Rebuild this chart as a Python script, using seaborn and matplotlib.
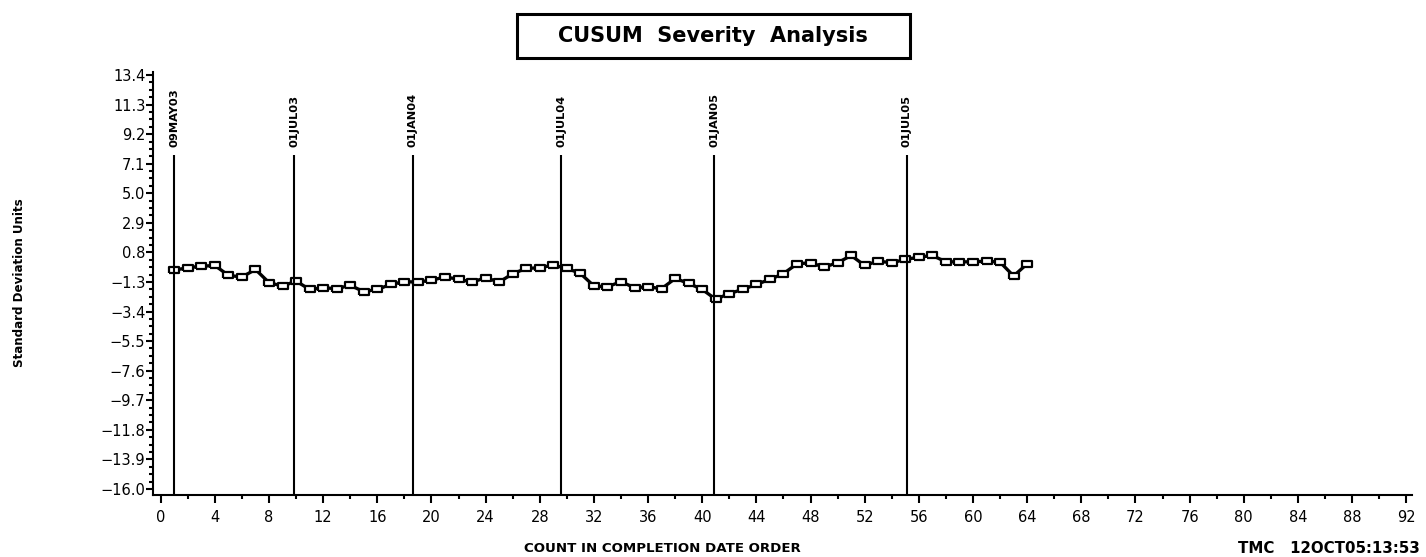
import matplotlib
matplotlib.use("Agg")
import matplotlib.pyplot as plt
import seaborn as sns
from matplotlib.patches import Rectangle
from matplotlib.ticker import AutoMinorLocator

# CUSUM values in completion date order (count 1..64)
counts = list(range(1, 65))
cusum = [-0.46, -0.29, -0.18, -0.13, -0.83, -0.95, -0.41, -1.35, -1.59, -1.24,
         -1.83, -1.71, -1.78, -1.54, -1.99, -1.83, -1.47, -1.28, -1.31, -1.17,
         -0.95, -1.10, -1.31, -1.00, -1.31, -0.71, -0.34, -0.29, -0.10, -0.34,
         -0.69, -1.59, -1.64, -1.28, -1.71, -1.64, -1.78, -1.05, -1.40, -1.83,
         -2.53, -2.12, -1.83, -1.47, -1.12, -0.71, -0.01, 0.06, -0.24, 0.06,
         0.58, -0.13, 0.18, 0.06, 0.30, 0.46, 0.58, 0.13, 0.13, 0.13,
         0.18, 0.11, -0.88, -0.01]

# date reference lines
date_pos = [1.0, 9.85, 18.6, 29.6, 40.9, 55.1]
date_labels = ['09MAY03', '01JUL03', '01JAN04', '01JUL04', '01JAN05', '01JUL05']

y_ticks = [13.4, 11.3, 9.2, 7.1, 5.0, 2.9, 0.8, -1.3, -3.4, -5.5, -7.6,
           -9.7, -11.8, -13.9, -16.0]
x_ticks = list(range(0, 93, 4))

sns.set_style("ticks")
plt.rcParams['font.family'] = ['DejaVu Sans']
plt.rcParams['text.color'] = 'black'
plt.rcParams['axes.labelcolor'] = 'black'

fig = plt.figure(figsize=(14.26, 5.57), dpi=100)
ax = fig.add_axes([0.1073, 0.1113, 0.8829, 0.7594])

# wide flat box marker
box = [(-1.4, -1.0), (1.4, -1.0), (1.4, 1.0), (-1.4, 1.0), (-1.4, -1.0)]
sns.lineplot(x=counts, y=cusum, ax=ax, color='black', linewidth=2.4,
             marker=box, markersize=7, markerfacecolor='white',
             markeredgecolor='black', markeredgewidth=1.6)

ax.vlines(date_pos, -16.43, 7.7, color='black', linewidth=1.5)
for xp, lab in zip(date_pos, date_labels):
    ax.text(xp, 8.3, lab, rotation=90, ha='center', va='bottom',
            fontweight='bold', fontsize=8.2)

ax.set_xlim(-0.57, 92.43)
ax.set_ylim(-16.43, 13.61)
ax.set_xticks(x_ticks)
ax.set_yticks(y_ticks)
ax.set_yticklabels([f"{v:.1f}".replace('-', '\u2212') for v in y_ticks])
ax.xaxis.set_minor_locator(AutoMinorLocator(2))
ax.yaxis.set_minor_locator(AutoMinorLocator(4))
ax.tick_params(axis='both', which='major', length=5, width=1.5, labelsize=10.5,
               color='black', labelcolor='black')
ax.tick_params(axis='x', which='major', length=6, pad=5)
ax.tick_params(axis='y', which='major', pad=0.5)
ax.tick_params(axis='both', which='minor', length=3, width=1.5, color='black')
for side in ['top', 'right']:
    ax.spines[side].set_visible(False)
for side in ['left', 'bottom']:
    ax.spines[side].set_linewidth(1.5)
    ax.spines[side].set_color('black')
ax.grid(False)

# title box
fig.patches.append(Rectangle((0.3626, 0.8959), 0.2756, 0.079, transform=fig.transFigure,
                             fill=False, edgecolor='black', linewidth=2.2))
fig.text(0.5, 0.935, 'CUSUM  Severity  Analysis', ha='center', va='center',
         fontsize=15, fontweight='bold')

fig.text(0.4642, 0.016, 'COUNT IN COMPLETION DATE ORDER', ha='center', va='center',
         fontsize=9.6, fontweight='bold')
fig.text(0.868, 0.016, 'TMC   12OCT05:13:53', ha='left', va='center',
         fontweight='bold', fontsize=10.8)
fig.text(0.014, 0.492, 'Standard Deviation Units', rotation=90, ha='center', va='center',
         fontweight='bold', fontsize=8.6)

fig.savefig('out.png', dpi=100)
